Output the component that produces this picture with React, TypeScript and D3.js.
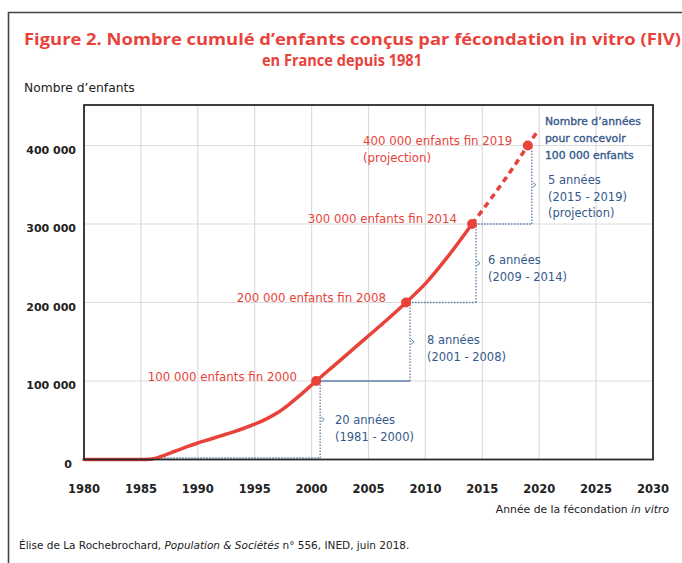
import React from "react";
import * as d3 from "d3";

const xTicks = [1980, 1985, 1990, 1995, 2000, 2005, 2010, 2015, 2020, 2025, 2030];
const yTicks = [0, 100000, 200000, 300000, 400000];
const yTickLabels = ["0", "100 000", "200 000", "300 000", "400 000"];

// cumulative births (observed)
const obsYears = [1980, 1985.5, 1986, 1987, 1988, 1989, 1990, 1991, 1992, 1993, 1994, 1995, 1996, 1997, 1998, 1999, 2000.4, 2002, 2004, 2006, 2008.3, 2010, 2012, 2014.1];
const obsValues = [0, 0, 600, 5000, 10500, 16000, 21000, 25500, 30000, 34500, 39500, 45000, 51500, 59500, 70000, 82000, 100000, 120000, 145000, 170000, 200000, 224000, 259000, 300000];
// projection
const projYears = [2014.1, 2016, 2018, 2019, 2019.9];
const projValues = [300000, 337000, 378000, 400000, 419000];

const milestoneYears = [2000.4, 2008.3, 2014.1, 2019];
const milestoneValues = [100000, 200000, 300000, 400000];
const guideStartYear = 1986;

const redLabels = [
  { lines: ["100 000 enfants fin 2000"], x: 297, y: 381, anchor: "end" },
  { lines: ["200 000 enfants fin 2008"], x: 386, y: 302, anchor: "end" },
  { lines: ["300 000 enfants fin 2014"], x: 457, y: 223, anchor: "end" },
  { lines: ["400 000 enfants fin 2019", "(projection)"], x: 363, y: 145, anchor: "start" },
];
const blueLabels = [
  { lines: ["20 années", "(1981 - 2000)"], x: 335, y: 424 },
  { lines: ["8 années", "(2001 - 2008)"], x: 427, y: 344 },
  { lines: ["6 années", "(2009 - 2014)"], x: 488, y: 264 },
  { lines: ["5 années", "(2015 - 2019)", "(projection)"], x: 548, y: 184 },
];

const RED = "#e8423a";
const BLUE = "#35598c";
const GUIDE = "#5f7fab";
const FONT = "'DejaVu Sans', sans-serif";
const TFONT = "'Open Sans', 'DejaVu Sans', sans-serif";

export default function App() {
  const W = 682, H = 563;
  const left = 84, right = 653, top = 105, bottom = 459.5;
  const x = d3.scaleLinear().domain([1980, 2030]).range([left, right]);
  const y = d3.scaleLinear().domain([0, 400000]).range([bottom, 145.5]);

  const line = d3.line<[number, number]>()
    .x((d) => x(d[0]))
    .y((d) => y(d[1]))
    .curve(d3.curveMonotoneX);

  const obs = obsYears.map((yr, i) => [yr, obsValues[i]] as [number, number]);
  const proj = projYears.map((yr, i) => [yr, projValues[i]] as [number, number]);

  const guides: JSX.Element[] = [];
  milestoneYears.forEach((yr, i) => {
    const x0 = i === 0 ? x(guideStartYear) : x(milestoneYears[i - 1]);
    const v0 = i === 0 ? 0 : milestoneValues[i - 1];
    const xv = x(yr) + 4;
    const y0 = y(v0) - (i === 0 ? 1.5 : 0);
    const y1 = y(milestoneValues[i]);
    const solid = i === 1;
    guides.push(
      <line key={"h" + i} x1={x0} x2={xv} y1={y0} y2={y0} stroke={GUIDE}
        strokeWidth={solid ? 1.6 : 1.3} strokeDasharray={solid ? undefined : "1.5,1.5"} />
    );
    guides.push(
      <line key={"v" + i} x1={xv} x2={xv} y1={y0} y2={y1} stroke={GUIDE}
        strokeWidth={1.3} strokeDasharray="1.5,1.5" />
    );
    const ym = (y0 + y1) / 2;
    guides.push(
      <path key={"b" + i} d={`M${xv + 1},${ym - 2.5} L${xv + 4},${ym} L${xv + 1},${ym + 2.5}`}
        fill="none" stroke={GUIDE} strokeWidth={1} />
    );
  });

  return (
    <svg width={W} height={H} style={{ position: "absolute", left: 0, top: 0, background: "#fff" }}
      fontFamily={FONT}>
      <rect x={0} y={0} width={W} height={H} fill="#fff" />
      {/* outer frame */}
      <path d={`M${W + 2},12.5 L8.5,12.5 L8.5,${H + 2}`} fill="none" stroke="#444" strokeWidth={1.6} />

      {/* title */}
      <text x={24} y={45} fill={RED} fontFamily={TFONT} fontSize={16} fontWeight={700} textLength={657} lengthAdjust="spacingAndGlyphs">
        Figure 2. Nombre cumulé d’enfants conçus par fécondation in vitro (FIV)
      </text>
      <text x={262} y={66} fill={RED} fontFamily={TFONT} fontSize={16} fontWeight={700} textLength={160} lengthAdjust="spacingAndGlyphs">
        en France depuis 1981
      </text>

      <text x={24} y={92} fill="#222" fontSize={12.3}>Nombre d’enfants</text>

      {/* grid */}
      {xTicks.map((t) => (
        <line key={"gx" + t} x1={x(t)} x2={x(t)} y1={top} y2={bottom} stroke="#dcdcdc" strokeWidth={1.2} />
      ))}
      {yTicks.map((t) => (
        <line key={"gy" + t} x1={left} x2={right} y1={y(t)} y2={y(t)} stroke="#dcdcdc" strokeWidth={1.2} />
      ))}

      {/* axis labels */}
      {yTicks.map((t, i) => (
        <text key={"yl" + t} x={t === 0 ? 72 : 76} y={y(t) + 8} fill="#222" fontSize={11}
          fontWeight={700} textAnchor="end">{yTickLabels[i]}</text>
      ))}
      {xTicks.map((t) => (
        <text key={"xl" + t} x={x(t)} y={493} fill="#222" fontSize={11.5} fontWeight={700}
          textAnchor="middle">{t}</text>
      ))}
      <text x={669} y={513} fill="#222" fontSize={10.8} textAnchor="end">
        Année de la fécondation <tspan fontStyle="italic">in vitro</tspan>
      </text>

      {/* guides */}
      {guides}

      {/* curve */}
      <path d={line(obs) || ""} fill="none" stroke={RED} strokeWidth={3.5} strokeLinecap="round" />
      <path d={line(proj) || ""} fill="none" stroke={RED} strokeWidth={3.5} strokeDasharray="6,4.5" />

      {/* plot frame */}
      <rect x={left} y={top} width={right - left} height={bottom - top} fill="none" stroke="#2a2a2a" strokeWidth={1.8} />

      {/* milestone markers */}
      {milestoneYears.map((yr, i) => (
        <circle key={"m" + i} cx={x(yr)} cy={y(milestoneValues[i])} r={5} fill={RED} />
      ))}

      {/* red labels */}
      {redLabels.map((l, i) => (
        <text key={"rl" + i} x={l.x} y={l.y} fill={RED} fontSize={11.8} textAnchor={l.anchor as any}>
          {l.lines.map((s, j) => (
            <tspan key={j} x={l.x} dy={j === 0 ? 0 : 17}>{s}</tspan>
          ))}
        </text>
      ))}

      {/* blue labels */}
      <text x={545} y={125} fill={BLUE} fontSize={10.8} stroke={BLUE} strokeWidth={0.35}>
        <tspan x={545} dy={0}>Nombre d’années</tspan>
        <tspan x={545} dy={17}>pour concevoir</tspan>
        <tspan x={545} dy={17}>100 000 enfants</tspan>
      </text>
      {blueLabels.map((l, i) => (
        <text key={"bl" + i} x={l.x} y={l.y} fill={BLUE} fontSize={11.5}>
          {l.lines.map((s, j) => (
            <tspan key={j} x={l.x} dy={j === 0 ? 0 : 16.5}>{s}</tspan>
          ))}
        </text>
      ))}

      {/* source */}
      <text x={19} y={549} fill="#222" fontSize={10.5}>
        Élise de La Rochebrochard, <tspan fontStyle="italic">Population &amp; Sociétés</tspan> n° 556, INED, juin 2018.
      </text>
    </svg>
  );
}
